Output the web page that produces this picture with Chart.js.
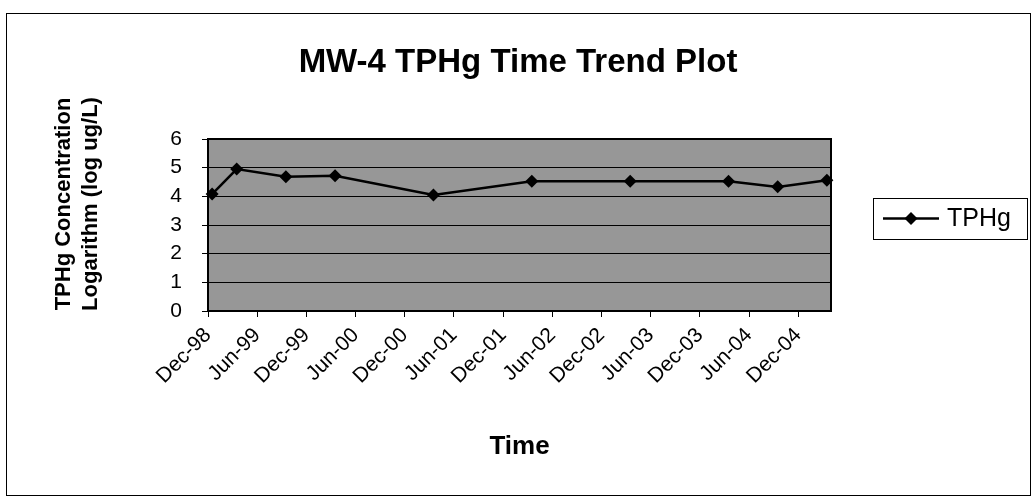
<!DOCTYPE html>
<html>
<head>
<meta charset="utf-8">
<title>MW-4 TPHg Time Trend Plot</title>
<script src="https://cdn.jsdelivr.net/npm/chart.js@4.4.1/dist/chart.umd.min.js"></script>
<style>
  html, body { margin: 0; padding: 0; background: #fff; }
  #wrap { width: 1036px; height: 497px; }
</style>
</head>
<body>
<div id="wrap"><canvas id="chartTrend" width="1036" height="497"></canvas></div>
<script>
// axis runs by month from Dec-98, ticks every 6 months
const axisStart = "1998-12";
const axisMonths = 76;
const tickLabels = ["Dec-98", "Jun-99", "Dec-99", "Jun-00", "Dec-00", "Jun-01", "Dec-01",
  "Jun-02", "Dec-02", "Jun-03", "Dec-03", "Jun-04", "Dec-04"];

// sampling events (year-month) and log concentration
const sampleDates = ["1998-12", "1999-03", "1999-09", "2000-03", "2001-03", "2002-03",
  "2003-03", "2004-03", "2004-09", "2005-03"];
const tphgLog = [4.08, 4.95, 4.68, 4.72, 4.05, 4.53, 4.53, 4.53, 4.33, 4.56];

const chartTitle = "MW-4 TPHg Time Trend Plot";
const yTitle = ["TPHg Concentration", "Logarithm (log ug/L)"];

const FONT = "'Liberation Sans', Arial, sans-serif";

function monthIndex(ym) {
  const [y, m] = ym.split("-").map(Number);
  const [y0, m0] = axisStart.split("-").map(Number);
  return (y - y0) * 12 + (m - m0);
}

// points sit in the middle of their month, like Excel's date axis
const points = sampleDates.map((d, i) => ({ x: monthIndex(d) + 0.5, y: tphgLog[i] }));

const pageFrame = {
  id: "pageFrame",
  beforeDraw(c) {
    const { ctx, chartArea: a } = c;
    ctx.save();
    ctx.fillStyle = "#fff";
    ctx.fillRect(0, 0, c.width, c.height);
    ctx.strokeStyle = "#000";
    ctx.lineWidth = 1;
    ctx.strokeRect(6.5, 13.5, 1024, 482);
    ctx.fillStyle = "#979797";
    ctx.fillRect(a.left, a.top, a.right - a.left, a.bottom - a.top);
    ctx.restore();
  },
  beforeDatasetsDraw(c) {
    const { ctx, chartArea: a } = c;
    ctx.save();
    ctx.strokeStyle = "#000";
    ctx.lineWidth = 2;
    ctx.strokeRect(a.left, a.top, a.right - a.left, a.bottom - a.top);
    ctx.restore();
  },
  afterDraw(c) {
    const { ctx } = c;
    ctx.save();
    ctx.fillStyle = "#000";
    // chart title, centred on the whole page like the Excel original
    ctx.font = "bold 33px " + FONT;
    ctx.textAlign = "center";
    ctx.textBaseline = "alphabetic";
    ctx.fillText(chartTitle, c.width / 2, 72);
    // two-line y axis title, sits a bit above the plot centre
    ctx.font = "bold 22px " + FONT;
    ctx.translate(70, 204);
    ctx.rotate(-Math.PI / 2);
    yTitle.forEach((t, i) => ctx.fillText(t, 0, i * 26.5));
    ctx.restore();
  }
};

const legendBox = {
  id: "legendBox",
  afterDraw(c) {
    const { ctx, chartArea: a } = c;
    const x = a.right + 42, y = a.top + 59, w = 154, h = 41;
    const cy = y + h / 2;
    ctx.save();
    ctx.strokeStyle = "#000";
    ctx.lineWidth = 1;
    ctx.strokeRect(x + 0.5, y + 0.5, w, h);
    ctx.lineWidth = 2.5;
    ctx.beginPath();
    ctx.moveTo(x + 10, cy);
    ctx.lineTo(x + 66, cy);
    ctx.stroke();
    ctx.fillStyle = "#000";
    ctx.beginPath();
    ctx.moveTo(x + 38, cy - 6.5);
    ctx.lineTo(x + 44.5, cy);
    ctx.lineTo(x + 38, cy + 6.5);
    ctx.lineTo(x + 31.5, cy);
    ctx.closePath();
    ctx.fill();
    ctx.font = "25px " + FONT;
    ctx.textBaseline = "middle";
    ctx.fillText(c.data.datasets[0].label, x + 74, cy + 1);
    ctx.restore();
  }
};

new Chart(document.getElementById("chartTrend"), {
  type: "line",
  data: {
    datasets: [
      {
        label: "TPHg",
        data: points,
        borderColor: "#000",
        backgroundColor: "#000",
        borderWidth: 2.5,
        pointStyle: "rectRot",
        pointRadius: 6.5,
        pointBorderWidth: 0,
        tension: 0,
        clip: false
      }
    ]
  },
  options: {
    responsive: false,
    animation: false,
    layout: { padding: { left: 50, right: 205, top: 139, bottom: 20 } },
    plugins: {
      legend: { display: false },
      tooltip: { enabled: false },
      title: { display: false }
    },
    scales: {
      x: {
        type: "linear",
        min: 0,
        max: axisMonths,
        afterBuildTicks: (s) => { s.ticks = tickLabels.map((_, i) => ({ value: i * 6 })); },
        afterFit: (s) => { s.height = 166; },
        ticks: {
          autoSkip: false,
          minRotation: 45,
          maxRotation: 45,
          padding: 6,
          color: "#000",
          font: { family: FONT, size: 21 },
          callback: (v) => tickLabels[v / 6]
        },
        grid: { drawOnChartArea: false, drawTicks: true, tickLength: 6, color: "#000" },
        border: { display: true, color: "#000", width: 2 },
        title: {
          display: true,
          text: "Time",
          color: "#000",
          font: { family: FONT, size: 26, weight: "bold" },
          padding: { top: 0, bottom: 15 }
        }
      },
      y: {
        min: 0,
        max: 6,
        afterFit: (s) => { s.width = 158; },
        ticks: { stepSize: 1, padding: 20, color: "#000", font: { family: FONT, size: 21 } },
        grid: { color: "#000", lineWidth: 1, tickLength: 6 },
        border: { display: true, color: "#000", width: 2 },
        title: { display: false }
      }
    }
  },
  plugins: [pageFrame, legendBox]
});
</script>
</body>
</html>
